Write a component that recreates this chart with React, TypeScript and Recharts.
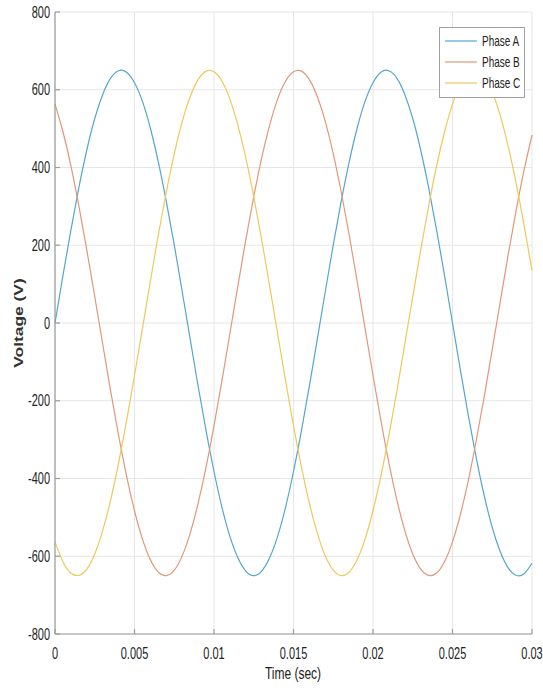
import React from 'react';
import { LineChart, Line, XAxis, YAxis, CartesianGrid, Legend } from 'recharts';

// sample times (s), every 0.5 ms
const times = [
  0, 0.0005, 0.001, 0.0015, 0.002, 0.0025, 0.003, 0.0035, 0.004, 0.0045,
  0.005, 0.0055, 0.006, 0.0065, 0.007, 0.0075, 0.008, 0.0085, 0.009, 0.0095,
  0.01, 0.0105, 0.011, 0.0115, 0.012, 0.0125, 0.013, 0.0135, 0.014, 0.0145,
  0.015, 0.0155, 0.016, 0.0165, 0.017, 0.0175, 0.018, 0.0185, 0.019, 0.0195,
  0.02, 0.0205, 0.021, 0.0215, 0.022, 0.0225, 0.023, 0.0235, 0.024, 0.0245,
  0.025, 0.0255, 0.026, 0.0265, 0.027, 0.0275, 0.028, 0.0285, 0.029, 0.0295,
  0.03,
];

// voltages (V)
const phaseA = [
  0, 122, 239, 348, 445, 526, 588, 630, 649, 645,
  618, 570, 501, 414, 313, 201, 81, -41, -162, -277,
  -382, -474, -549, -604, -638, -650, -638, -604, -549, -474,
  -382, -277, -162, -41, 81, 201, 313, 414, 501, 570,
  618, 645, 649, 630, 588, 526, 445, 348, 239, 122,
  0, -122, -239, -348, -445, -526, -588, -630, -649, -645,
  -618,
];

const phaseB = [
  563, 492, 404, 301, 188, 68, -54, -175, -289, -393,
  -483, -556, -609, -641, -650, -636, -599, -541, -464, -371,
  -264, -148, -27, 95, 214, 325, 425, 509, 576, 622,
  646, 648, 626, 582, 518, 435, 337, 227, 108, -14,
  -135, -252, -360, -455, -534, -594, -633, -649, -643, -614,
  -563, -492, -404, -301, -188, -68, 54, 175, 289, 393,
  483,
];

const phaseC = [
  -563, -614, -643, -649, -633, -594, -534, -455, -360, -252,
  -135, -14, 108, 227, 337, 435, 518, 582, 626, 648,
  646, 622, 576, 509, 425, 325, 214, 95, -27, -148,
  -264, -371, -464, -541, -599, -636, -650, -641, -609, -556,
  -483, -393, -289, -175, -54, 68, 188, 301, 404, 492,
  563, 614, 643, 649, 633, 594, 534, 455, 360, 252,
  135,
];

const xTicks = [0, 0.005, 0.01, 0.015, 0.02, 0.025, 0.03];
const yTicks = [-800, -600, -400, -200, 0, 200, 400, 600, 800];

const seriesNames = ['Phase A', 'Phase B', 'Phase C'];
const seriesColors = ['#55a6cc', '#e2977a', '#efc85a'];

const data = times.map((t, i) => ({
  t,
  a: phaseA[i],
  b: phaseB[i],
  c: phaseC[i],
}));

const textColor = '#222';
const axisColor = '#9c9c9c';
const font = 'Arial, "Liberation Sans", sans-serif';

const XTick = (props: any) => {
  const { x, y, payload } = props;
  return (
    <g transform={`translate(${x},${y}) scale(1,1.45)`}>
      <text x={0} y={0} textAnchor="middle" fontSize={11} fill={textColor} fontFamily={font}>
        {payload.value}
      </text>
    </g>
  );
};

const YTick = (props: any) => {
  const { x, y, payload } = props;
  return (
    <g transform={`translate(${x},${y}) scale(1,1.45)`}>
      <text x={0} y={0} dy="0.36em" textAnchor="end" fontSize={11} fill={textColor} fontFamily={font}>
        {payload.value}
      </text>
    </g>
  );
};

const renderLegend = () => (
  <svg width={86} height={71} style={{ display: 'block' }}>
    <rect x={0.5} y={0.5} width={85} height={70} fill="#fff" stroke="#a0a0a0" strokeWidth={1} />
    {seriesNames.map((name, i) => (
      <g key={name}>
        <line x1={6} x2={38} y1={14 + i * 21} y2={14 + i * 21} stroke={seriesColors[i]} strokeWidth={1.2} />
        <g transform={`translate(43,${14 + i * 21}) scale(1,1.4)`}>
          <text x={0} y={0} dy="0.36em" fontSize={10} fill={textColor} fontFamily={font}>
            {name}
          </text>
        </g>
      </g>
    ))}
  </svg>
);

export default function App() {
  return (
    <div style={{ position: 'absolute', left: 0, top: 0, width: 543, height: 694, background: '#fff' }}>
      <LineChart width={543} height={694} data={data} margin={{ top: 12, right: 11, left: 0, bottom: 0 }}>
        <CartesianGrid stroke="#e6e6e6" strokeWidth={1} />
        <XAxis
          dataKey="t"
          type="number"
          domain={[0, 0.03]}
          ticks={xTicks}
          interval={0}
          height={60}
          stroke={axisColor}
          strokeWidth={1.2}
          tickSize={-5}
          tickMargin={30}
          tick={<XTick />}
        />
        <XAxis
          xAxisId="top"
          dataKey="t"
          type="number"
          orientation="top"
          domain={[0, 0.03]}
          ticks={xTicks}
          interval={0}
          height={0}
          stroke={axisColor}
          strokeWidth={1.2}
          tickSize={-5}
          tick={false}
        />
        <YAxis
          type="number"
          domain={[-800, 800]}
          ticks={yTicks}
          interval={0}
          width={55}
          stroke={axisColor}
          strokeWidth={1.2}
          tickSize={-5}
          tickMargin={10}
          tick={<YTick />}
        />
        <YAxis
          yAxisId="right"
          type="number"
          orientation="right"
          domain={[-800, 800]}
          ticks={yTicks}
          interval={0}
          width={0}
          stroke={axisColor}
          strokeWidth={1.2}
          tickSize={-5}
          tick={false}
        />
        <Legend
          layout="horizontal"
          verticalAlign="middle"
          align="center"
          content={renderLegend}
          wrapperStyle={{ position: 'absolute', left: 439, top: 27, width: 86, height: 71 }}
        />
        <Line type="natural" dataKey="a" name={seriesNames[0]} stroke={seriesColors[0]} strokeWidth={1.2} dot={false} isAnimationActive={false} />
        <Line type="natural" dataKey="b" name={seriesNames[1]} stroke={seriesColors[1]} strokeWidth={1.2} dot={false} isAnimationActive={false} />
        <Line type="natural" dataKey="c" name={seriesNames[2]} stroke={seriesColors[2]} strokeWidth={1.2} dot={false} isAnimationActive={false} />
        <text
          transform="translate(293,679) scale(1,1.4)"
          textAnchor="middle"
          fontSize={12}
          fill={textColor}
          fontFamily={font}
        >
          Time (sec)
        </text>
        <text
          transform="translate(19,323) rotate(-90) scale(1.45,1)"
          textAnchor="middle"
          dy="0.36em"
          fontSize={12}
          fontWeight="bold"
          fill="#333"
          fontFamily={font}
        >
          Voltage (V)
        </text>
      </LineChart>
    </div>
  );
}
